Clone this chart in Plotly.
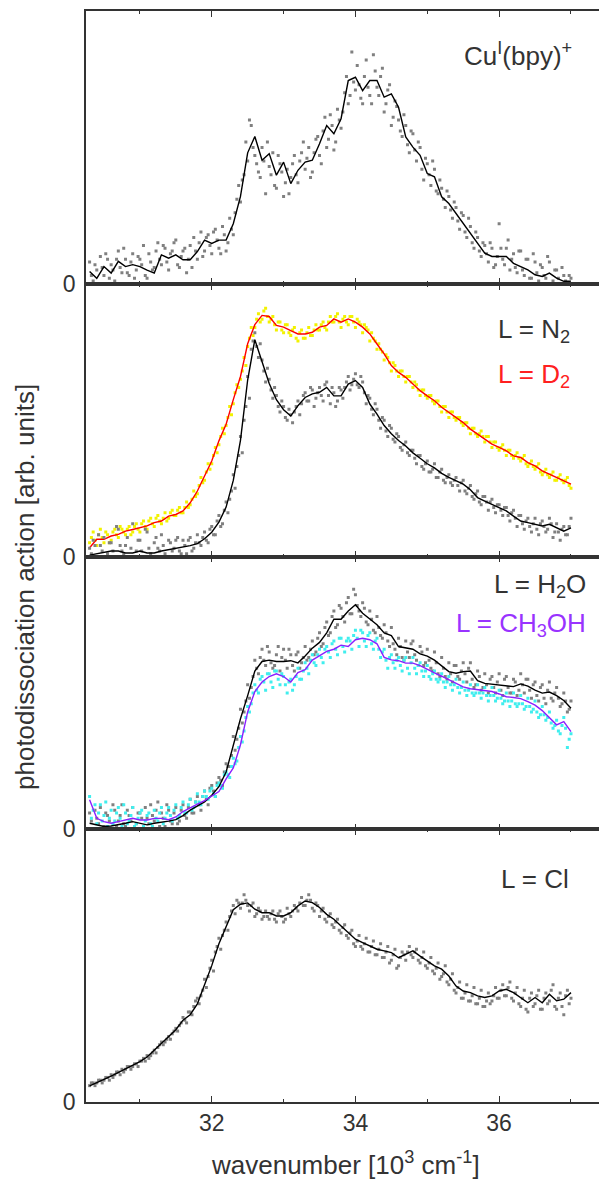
import plotly.graph_objects as go
from plotly.subplots import make_subplots

# ---------------- data (x in 10^3 cm^-1, y in arbitrary units 0-100) ----------------
X_START = 30.3
LINE_STEP = 0.1
PTS_STEP = 0.05

cu_line = [4.5, 2, 6.3, 3.9, 8.2, 6.3, 7, 6.3, 5, 3.9,
           10.6, 9.4, 10.6, 8.8, 8.8, 11.8, 16, 14.8, 16, 16,
           22, 32, 48, 54, 45.3, 47.7, 39.8, 44.6, 36.7, 41.6,
           44.6, 45.3, 51.3, 58, 55, 60.5, 74.5, 75.7, 70.8, 74.5,
           74.5, 68.4, 69.6, 64.7, 53.8, 50.1, 47.1, 40.4, 39.2, 31.9,
           29.4, 25.8, 22.1, 18.5, 14.8, 11.2, 10, 10, 10, 7.5,
           6.3, 5.1, 3.3, 2.7, 3.9, 2.1, 0.9, 0.9]
cu_pts = [8, 1, 5, 10, 3, 9, 7, 1, 12, 4,
          9, 3, 11, 5, 9, 14, 2, 8, 6, 15,
          7, 13, 5, 12, 16, 6, 12, 4, 14, 17,
          9, 19, 12, 18, 11, 20, 13, 21, 12, 24,
          18, 31, 30, 40, 45, 58, 47, 41, 50, 33,
          43, 48, 35, 44, 32, 42, 39, 47, 37, 48,
          42, 50, 41, 53, 47, 56, 50, 62, 49, 64,
          57, 70, 66, 85, 71, 73, 66, 82, 69, 84,
          72, 76, 63, 71, 58, 67, 60, 54, 58, 48,
          55, 45, 50, 38, 44, 36, 42, 33, 35, 28,
          32, 24, 28, 20, 25, 17, 21, 13, 17, 10,
          14, 8, 13, 7, 22, 9, 13, 5, 11, 4,
          12, 3, 9, 2, 8, 1, 6, 2, 8, 1,
          5, 0, 3, 0, 2]
cu_pts2 = [3, 7, 0, 6, 11, 2, 5, 9, 6, 13,
           4, 8, 2, 10, 7, 3, 11, 5, 12, 9,
           14, 8, 11, 15, 7, 10, 13, 9, 6, 12,
           15, 10, 17, 14, 19, 16, 11, 18, 15, 20,
           26, 36, 38, 52, 60, 50, 44, 39, 45, 52,
           40, 36, 47, 41, 37, 33, 44, 40, 45, 52,
           46, 39, 48, 54, 44, 61, 53, 58, 52, 60,
           63, 76, 69, 74, 80, 68, 76, 72, 66, 78,
           69, 79, 66, 73, 61, 65, 56, 62, 51, 56,
           49, 52, 42, 46, 40, 45, 34, 38, 31, 34,
           27, 30, 23, 26, 19, 24, 15, 19, 12, 15,
           11, 15, 6, 10, 13, 7, 16, 9, 6, 12,
           5, 9, 2, 11, 4, 7, 3, 10, 0, 5,
           2, 6, 1, 3]

n2_line = [0.5, 1, 1.3, 2, 2, 1.3, 1.3, 2, 1.3, 1.3,
           2, 2.5, 3, 3.4, 4, 4.7, 6.5, 8.9, 12.6, 18.1,
           27.9, 42.6, 64.7, 79.5, 71, 63.4, 57.5, 53.8, 51.5, 55.3,
           58.3, 59.6, 60.2, 62, 58.9, 58.9, 63.2, 64.5, 62, 55.9,
           52.2, 48, 45, 42.5, 40.5, 38, 36, 34, 32.5, 30.5,
           29, 27.8, 26.5, 24.5, 21.6, 20.3, 19.1, 17.9, 16.7, 14.8,
           13, 12.4, 11.8, 11.2, 11.8, 10.5, 9.3, 10.5]
n2_pts = [3, 6, 0, 4, 7, 1, 5, 0, 10, 2,
          4, 0, 12, 2, 6, 0, 9, 1, 5, 3,
          8, 1, 6, 2, 6, 2, 6, 1, 7, 3,
          8, 4, 9, 5, 11, 8, 15, 12, 20, 21,
          30, 33, 44, 50, 66, 76, 82, 73, 72, 64,
          65, 58, 59, 53, 55, 50, 52, 53, 57, 56,
          60, 57, 61, 58, 62, 57, 64, 56, 60, 57,
          61, 62, 66, 63, 67, 62, 64, 56, 58, 52,
          54, 47, 50, 44, 47, 42, 44, 39, 42, 37,
          39, 34, 37, 32, 35, 31, 34, 29, 32, 27,
          30, 26, 29, 24, 28, 23, 26, 21, 24, 19,
          22, 17, 21, 16, 19, 15, 18, 13, 17, 11,
          15, 10, 14, 9, 14, 8, 13, 9, 14, 7,
          12, 6, 11, 8, 14]
n2_pts2 = [1, 4, 8, 2, 0, 5, 2, 11, 4, 1,
           7, 3, 0, 6, 2, 10, 3, 0, 7, 2,
           4, 0, 5, 3, 7, 1, 4, 6, 2, 5,
           5, 7, 6, 10, 8, 13, 11, 17, 16, 24,
           25, 37, 38, 55, 58, 79, 77, 78, 68, 69,
           61, 62, 55, 57, 51, 54, 49, 55, 52, 59,
           57, 62, 55, 60, 59, 63, 59, 62, 55, 62,
           58, 64, 61, 65, 63, 66, 60, 59, 54, 56,
           50, 51, 46, 48, 43, 45, 40, 41, 38, 39,
           36, 37, 33, 34, 31, 32, 29, 31, 28, 29,
           27, 28, 26, 27, 24, 25, 22, 23, 20, 22,
           20, 20, 18, 19, 17, 18, 15, 16, 14, 15,
           12, 13, 11, 12, 10, 12, 11, 10, 12, 9,
           9, 10, 8, 11]

d2_line = [3.2, 6.3, 6.3, 7.5, 8.1, 9.3, 9.9, 10.5, 11.2, 12.4,
           13, 14.8, 15.4, 16.7, 19.7, 24, 29.5, 35, 42.4, 48.5,
           57.5, 66, 78, 85, 88.4, 88, 84.7, 84.1, 82.8, 81.6,
           81.6, 82.2, 84.1, 84.7, 87.1, 85.9, 87.1, 85.9, 84.1, 81.6,
           77.9, 74.3, 70, 67.5, 65.7, 63.2, 60.8, 58.9, 57.1, 54.7,
           52.8, 51, 49.1, 46.7, 44.9, 43, 41.2, 40, 38.7, 36.9,
           36.3, 34.4, 33.2, 31.4, 30.1, 28.9, 27.7, 26.5]
d2_pts = [5, 9, 4, 10, 5, 8, 6, 10, 7, 10,
          8, 11, 9, 12, 9, 13, 10, 14, 11, 15,
          12, 16, 14, 17, 15, 18, 16, 20, 19, 24,
          23, 29, 28, 34, 34, 40, 41, 47, 48, 55,
          56, 63, 65, 73, 77, 84, 84, 89, 87, 91,
          86, 88, 83, 86, 82, 85, 81, 84, 79, 83,
          80, 84, 81, 85, 83, 86, 83, 88, 86, 89,
          84, 88, 85, 88, 84, 86, 82, 84, 79, 80,
          76, 76, 72, 73, 68, 70, 66, 68, 64, 66,
          62, 63, 59, 61, 58, 59, 56, 57, 53, 55,
          51, 53, 50, 51, 48, 49, 45, 47, 44, 46,
          42, 44, 40, 42, 39, 41, 37, 39, 36, 38,
          35, 37, 33, 35, 32, 34, 30, 32, 29, 31,
          28, 30, 27, 29, 25]
d2_pts2 = [7, 6, 8, 7, 9, 5, 9, 8, 11, 9,
           10, 8, 11, 10, 12, 11, 13, 12, 14, 13,
           14, 13, 16, 15, 17, 16, 18, 18, 21, 22,
           26, 27, 31, 32, 37, 38, 44, 45, 51, 52,
           60, 62, 68, 70, 80, 81, 87, 86, 90, 88,
           87, 85, 86, 83, 85, 82, 83, 80, 82, 80,
           82, 81, 83, 83, 85, 84, 86, 86, 88, 86,
           87, 86, 88, 86, 87, 85, 85, 83, 82, 79,
           78, 75, 74, 71, 71, 68, 68, 66, 66, 64,
           64, 61, 61, 59, 59, 57, 57, 55, 55, 53,
           53, 51, 51, 49, 49, 47, 47, 45, 45, 44,
           44, 42, 42, 40, 40, 39, 39, 37, 37, 36,
           36, 34, 34, 33, 33, 31, 31, 30, 30, 28,
           29, 28, 28, 26]

h2o_line = [2.2, 1.6, 1, 1.2, 1.6, 2.2, 2.8, 2.2, 1.6, 2.2,
            2.5, 3, 3.5, 5, 7, 8.5, 10, 12.5, 15.6, 21,
            31, 40.5, 49, 58, 61.5, 62, 61.5, 61.5, 61.8, 61,
            63.5, 66.4, 68.5, 72, 77, 77, 80, 82.3, 79.2, 77.2,
            75, 72, 71, 67, 66.5, 66, 64.3, 63.5, 62, 60,
            57.8, 57.2, 57.8, 58, 54.5, 53.5, 53.2, 52.9, 52.6, 52.3,
            53.3, 52.5, 51, 49.9, 50.3, 49, 47.2, 44.4]
h2o_pts = [6, 0, 4, 8, 1, 5, 0, 7, 3, 9,
           1, 5, 8, 2, 6, 0, 4, 9, 3, 10,
           6, 1, 7, 2, 8, 3, 9, 4, 11, 6,
           12, 7, 14, 9, 16, 12, 19, 16, 24, 23,
           34, 33, 44, 43, 53, 52, 62, 57, 66, 60,
           65, 59, 64, 58, 66, 59, 64, 58, 65, 61,
           67, 63, 69, 65, 72, 68, 76, 72, 80, 75,
           81, 76, 85, 79, 86, 80, 83, 76, 80, 73,
           78, 71, 75, 69, 74, 66, 70, 63, 69, 63,
           69, 62, 67, 60, 66, 59, 65, 57, 63, 56,
           61, 54, 60, 55, 61, 54, 61, 52, 58, 51,
           57, 50, 56, 50, 57, 49, 56, 50, 55, 49,
           57, 50, 55, 48, 54, 47, 53, 46, 54, 47,
           52, 45, 50, 43, 47]
h2o_pts2 = [3, 7, 2, 0, 6, 3, 9, 1, 5, 2,
            7, 3, 1, 6, 4, 8, 2, 5, 7, 1,
            4, 9, 3, 6, 2, 7, 5, 8, 6, 10,
            9, 12, 11, 15, 14, 17, 18, 21, 23, 27,
            29, 37, 39, 47, 48, 56, 59, 63, 62, 67,
            61, 60, 67, 63, 62, 66, 60, 64, 59, 63,
            62, 66, 64, 70, 67, 74, 71, 78, 74, 82,
            78, 83, 79, 88, 82, 78, 81, 75, 77, 72,
            74, 70, 72, 67, 68, 64, 67, 62, 65, 68,
            64, 60, 65, 61, 62, 58, 61, 56, 59, 55,
            57, 60, 56, 58, 57, 59, 55, 53, 56, 52,
            53, 55, 52, 54, 51, 55, 52, 50, 54, 51,
            53, 55, 51, 53, 49, 52, 48, 51, 48, 50,
            48, 46, 47, 44]

meoh_line = [10.8, 4, 2.8, 2.2, 2.8, 3.4, 4, 3.4, 3.4, 4,
             4, 3.5, 4.5, 6.5, 8, 9.2, 10.5, 12, 13.8, 18.5,
             22.5, 31, 43, 50.5, 54, 56, 57, 56, 54, 57.4,
             58.5, 62, 63.5, 65.2, 66, 67.5, 67, 69.5, 70, 69.5,
             68, 63, 62.1, 61.8, 60.9, 60.9, 60, 58.8, 57.3, 56.1,
             54.8, 53.5, 52.2, 51.5, 51.2, 50.8, 50.5, 49.6, 48.6, 48.3,
             47.9, 46.8, 45.5, 43.5, 41, 38.3, 39.5, 35.8]
meoh_pts = [12, 7, 2, 9, 5, 1, 7, 3, 8, 1,
            6, 3, 8, 2, 6, 1, 5, 2, 7, 3,
            8, 4, 8, 3, 9, 5, 10, 6, 11, 8,
            13, 9, 14, 11, 15, 12, 17, 15, 21, 19,
            26, 25, 34, 36, 45, 46, 53, 50, 56, 51,
            57, 52, 58, 53, 56, 50, 55, 53, 59, 55,
            61, 57, 64, 60, 66, 61, 67, 63, 69, 64,
            70, 65, 70, 66, 73, 67, 72, 67, 72, 66,
            70, 63, 66, 59, 64, 59, 63, 58, 63, 57,
            63, 57, 61, 56, 60, 55, 58, 54, 57, 52,
            56, 51, 55, 50, 54, 49, 53, 49, 53, 48,
            52, 47, 52, 47, 51, 46, 50, 45, 50, 45,
            49, 44, 48, 43, 47, 41, 45, 40, 43, 37,
            40, 35, 41, 30, 35]
meoh_pts2 = [4, 9, 6, 3, 10, 4, 2, 6, 4, 9,
             2, 5, 1, 4, 7, 3, 6, 1, 4, 6,
             2, 6, 5, 7, 4, 8, 6, 9, 7, 10,
             10, 12, 12, 14, 13, 16, 16, 20, 20, 23,
             24, 30, 32, 41, 43, 50, 51, 55, 54, 57,
             54, 58, 55, 57, 53, 54, 51, 56, 55, 58,
             59, 62, 61, 64, 63, 66, 65, 68, 66, 70,
             67, 69, 69, 71, 70, 73, 69, 71, 68, 69,
             66, 65, 62, 63, 61, 62, 60, 62, 59, 61,
             59, 60, 58, 58, 56, 57, 55, 55, 54, 54,
             53, 53, 52, 52, 51, 51, 50, 50, 50, 50,
             49, 49, 49, 48, 48, 47, 47, 47, 46, 46,
             46, 45, 45, 44, 43, 42, 42, 41, 39, 38,
             36, 38, 37, 33]

cl_line = [5.9, 7, 8.3, 9.5, 10.8, 12, 13.3, 14.8, 16.5, 19,
           21.5, 24, 26.5, 30, 32, 36, 43, 50, 58, 64,
           70.5, 72.5, 73, 70.7, 69.4, 69.4, 68.2, 68.2, 69.4, 71.9,
           73.7, 73.1, 71.3, 68.8, 67, 64.5, 62.1, 59.7, 58.4, 57.2,
           56, 55.4, 54.8, 52.9, 54.2, 55.4, 53.5, 51.7, 49.9, 48.7,
           46.2, 42.5, 40.7, 40.1, 38.9, 38.3, 38.9, 40.7, 41.3, 40.1,
           38.3, 36.4, 38.3, 36.4, 39.5, 37.1, 37.7, 40.1]
cl_pts = [6, 7, 7, 8, 8, 9, 10, 10, 11, 12,
          12, 13, 13, 14, 15, 16, 17, 17, 19, 20,
          22, 22, 24, 25, 27, 28, 31, 29, 33, 35,
          38, 39, 45, 46, 52, 55, 60, 61, 66, 68,
          72, 74, 71, 76, 72, 72, 68, 71, 67, 70,
          67, 70, 66, 70, 66, 71, 68, 72, 70, 75,
          72, 76, 71, 73, 68, 71, 66, 69, 64, 67,
          62, 65, 60, 63, 57, 61, 56, 60, 55, 59,
          54, 58, 53, 57, 52, 56, 50, 55, 52, 57,
          53, 56, 51, 55, 49, 53, 47, 51, 46, 50,
          43, 47, 40, 44, 38, 43, 37, 42, 36, 41,
          35, 40, 37, 42, 38, 43, 39, 44, 37, 42,
          35, 41, 33, 40, 36, 41, 34, 40, 37, 43,
          34, 40, 32, 41, 38]
cl_pts2 = [7, 6, 8, 7, 9, 8, 9, 11, 10, 11,
           13, 12, 14, 13, 15, 15, 16, 18, 18, 21,
           21, 23, 23, 26, 26, 29, 30, 33, 32, 37,
           36, 41, 42, 49, 48, 57, 56, 63, 63, 70,
           69, 73, 73, 74, 70, 73, 69, 70, 68, 68,
           69, 67, 69, 68, 67, 69, 70, 71, 73, 72,
           74, 74, 70, 72, 70, 67, 68, 65, 66, 63,
           64, 61, 62, 58, 59, 57, 58, 55, 57, 54,
           56, 53, 55, 51, 54, 49, 53, 54, 55, 54,
           55, 52, 53, 50, 51, 48, 49, 45, 47, 44,
           45, 41, 42, 38, 40, 37, 39, 36, 38, 35,
           37, 36, 39, 38, 41, 39, 42, 38, 40, 36,
           38, 34, 38, 35, 39, 34, 38, 36, 41, 35,
           38, 35, 39, 36]

x_major_ticks = [32, 34, 36]
x_minor_ticks = [31, 33, 35, 37]
y_ticks = [0]
y_ticktext = ["0"]


def grid(vals, step, start=X_START):
    return [round(start + step * i, 4) for i in range(len(vals))]


FONT = "Liberation Sans, Arial, sans-serif"
TXT = "#333333"
GREY = "#808080"

fig = make_subplots(rows=4, cols=1, shared_xaxes=True, vertical_spacing=0)


def pts(row, vals, vals2, color):
    xs = grid(vals, PTS_STEP) + grid(vals2, PTS_STEP, X_START + PTS_STEP / 2)
    fig.add_trace(go.Scatter(x=xs, y=vals + vals2, mode="markers",
                             marker=dict(symbol="square", size=3, color=color,
                                         line=dict(width=0)),
                             hoverinfo="skip"), row=row, col=1)


def line(row, vals, color):
    fig.add_trace(go.Scatter(x=grid(vals, LINE_STEP), y=vals, mode="lines",
                             line=dict(color=color, width=1.4)), row=row, col=1)


pts(1, cu_pts, cu_pts2, GREY)
line(1, cu_line, "#000000")

pts(2, d2_pts, d2_pts2, "#f2f200")
line(2, d2_line, "#ff0000")
pts(2, n2_pts, n2_pts2, GREY)
line(2, n2_line, "#000000")

pts(3, h2o_pts, h2o_pts2, GREY)
pts(3, meoh_pts, meoh_pts2, "#40eeee")
line(3, h2o_line, "#000000")
line(3, meoh_line, "#8a20ff")

pts(4, cl_pts, cl_pts2, GREY)
line(4, cl_line, "#000000")

for r in range(1, 5):
    fig.update_xaxes(
        row=r, col=1, range=[30.25, 37.39], tickvals=x_major_ticks,
        ticks="inside", ticklen=6, tickwidth=1.3, tickcolor=TXT,
        showline=True, linecolor=TXT, linewidth=1.5, mirror="ticks",
        showgrid=False, zeroline=False, showticklabels=(r == 4),
        tickfont=dict(family=FONT, size=23, color=TXT),
        minor=dict(tickvals=x_minor_ticks, ticks="inside", ticklen=3,
                   tickwidth=1.3, tickcolor=TXT, showgrid=False),
    )
    fig.update_yaxes(
        row=r, col=1, range=[0, 100], tickvals=y_ticks, ticktext=y_ticktext,
        ticks="", showline=True, linecolor=TXT, linewidth=1.5, mirror=False,
        showgrid=False, zeroline=False, ticklabelstandoff=4,
        tickfont=dict(family=FONT, size=23, color=TXT),
    )

ann_font = dict(family=FONT, size=26, color=TXT)
annotations = [
    dict(text="Cu<sup>I</sup>(bpy)<sup>+</sup>", x=37.04, y=84, xref="x", yref="y",
         xanchor="right", yanchor="middle", showarrow=False, font=ann_font),
    dict(text="L = N<sub>2</sub>", x=37.02, y=83, xref="x2", yref="y2",
         xanchor="right", yanchor="middle", showarrow=False, font=ann_font),
    dict(text="L = D<sub>2</sub>", x=37.02, y=66.5, xref="x2", yref="y2",
         xanchor="right", yanchor="middle", showarrow=False,
         font=dict(family=FONT, size=26, color="#ff2020")),
    dict(text="L = H<sub>2</sub>O", x=37.24, y=89.5, xref="x3", yref="y3",
         xanchor="right", yanchor="middle", showarrow=False, font=ann_font),
    dict(text="L = CH<sub>3</sub>OH", x=37.24, y=75, xref="x3", yref="y3",
         xanchor="right", yanchor="middle", showarrow=False,
         font=dict(family=FONT, size=26, color="#9933ff")),
    dict(text="L = Cl", x=37.0, y=81.7, xref="x4", yref="y4",
         xanchor="right", yanchor="middle", showarrow=False, font=ann_font),
    dict(text="photodissociation action [arb. units]", x=-0.119, y=0.472,
         xref="paper", yref="paper", textangle=-90, xanchor="center",
         yanchor="middle", showarrow=False, font=ann_font),
    dict(text="wavenumber [10<sup>3</sup> cm<sup>-1</sup>]", x=0.505, y=-0.056,
         xref="paper", yref="paper", xanchor="center", yanchor="middle",
         showarrow=False, font=ann_font),
]

fig.update_layout(
    width=599, height=1179, margin=dict(l=86, r=0, t=11, b=77),
    paper_bgcolor="white", plot_bgcolor="white", showlegend=False,
    annotations=annotations, font=dict(family=FONT, color=TXT),
)

fig.write_html("out.html", config={"displayModeBar": False},
               post_script="document.body.style.margin='0';"
                           "document.body.style.overflow='hidden';")
